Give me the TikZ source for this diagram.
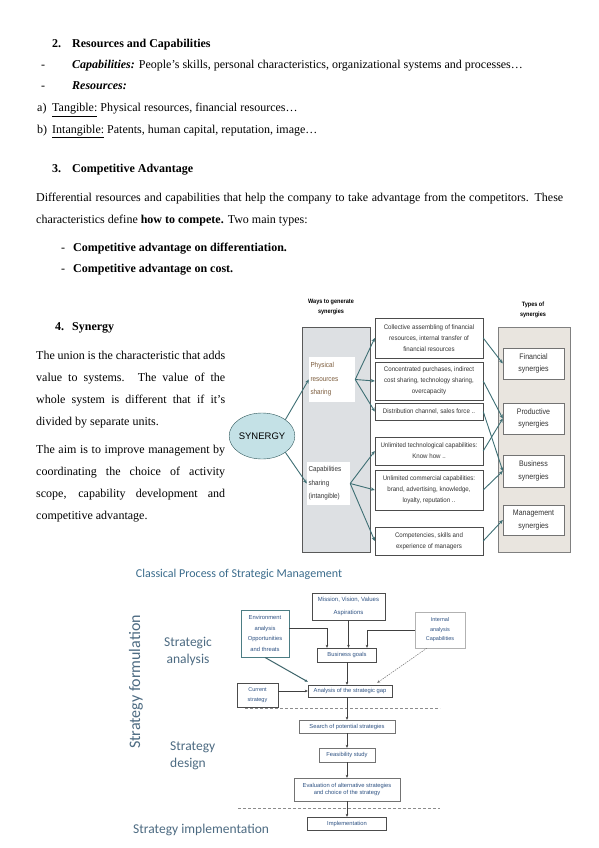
\documentclass[tikz,border=0pt]{standalone}
\usepackage{fontspec}
\setmainfont{Liberation Serif}
\newfontfamily\diagfont{Liberation Sans}
\newfontfamily\diagcond[FakeStretch=0.88]{Liberation Sans}
\newfontfamily\diagnarrow[FakeStretch=0.93]{Liberation Sans}
\newfontfamily\procfont{Carlito}
\usetikzlibrary{arrows.meta,shapes.geometric}

\definecolor{synteal}{HTML}{3E6F74}
\definecolor{synfill}{HTML}{C4E1E6}
\definecolor{waygrey}{HTML}{DDE0E3}
\definecolor{typebeige}{HTML}{E9E5DF}
\definecolor{physbrown}{HTML}{7B5B3B}
\definecolor{procblue}{HTML}{2E5283}
\definecolor{labelblue}{HTML}{4D6B82}
\definecolor{titleblue}{HTML}{3B6C8C}
\definecolor{envteal}{HTML}{4C7D84}

\tikzset{
  body/.style={font=\fontsize{12}{14}\selectfont, inner sep=0pt, anchor=base west},
  parablock/.style={font=\fontsize{12}{22}\selectfont, inner sep=0pt, anchor=north west, align=left},
  synarrow/.style={draw=synteal, line width=0.9pt, -{Stealth[length=4pt,width=3.5pt]}},
  waybox/.style={fill=white, inner sep=1.5pt, align=left, font=\diagcond\fontsize{7.2}{13.5}\selectfont},
  midbox/.style={draw=black!70, fill=white, inner sep=1pt, align=center, minimum width=108pt,
    font=\diagnarrow\fontsize{6.6}{11}\selectfont, text=black!80},
  typebox/.style={draw=black!55, fill=white, inner sep=1pt, align=center, minimum width=61pt,
    font=\diagcond\fontsize{8}{12.5}\selectfont, text=black!80},
  procbox/.style={draw=black!70, fill=white, inner sep=1pt, align=center,
    font=\diagfont\fontsize{5.8}{7}\selectfont, text=procblue},
  procarrow/.style={draw=black!75, line width=0.5pt, -{Stealth[length=3pt,width=2.6pt]}},
  stagelabel/.style={font=\procfont\fontsize{13.5}{17}\selectfont, text=labelblue, inner sep=0pt},
  phasebar/.style={draw=black!45, line width=0.6pt, dash pattern=on 3pt off 2pt}
}

\begin{document}
\begin{tikzpicture}[x=1pt,y=-1pt]
\fill[white] (0,0) rectangle (599,848);
\useasboundingbox (0,0) rectangle (599,848);

% Resources and capabilities
\node[body] (h2num) at (52,48) {\textbf{2.}};
\node[body] (h2) at (72,48) {\textbf{Resources and Capabilities}};
\node[body] (d1) at (41,69) {-};
\node[body] (capline) at (72,69) {\textbf{\textit{Capabilities:}} People's skills, personal characteristics, organizational systems and processes…};
\node[body] (d2) at (41,90) {-};
\node[body] (resline) at (72,90) {\textbf{\textit{Resources:}}};
\node[body] (la) at (37,112) {a)};
\node[body] (tangline) at (52,112) {\underline{Tangible:} Physical resources, financial resources…};
\node[body] (lb) at (37,133) {b)};
\node[body] (intline) at (52,133) {\underline{Intangible:} Patents, human capital, reputation, image…};

% Competitive advantage
\node[body] (h3num) at (52,172) {\textbf{3.}};
\node[body] (h3) at (72,172) {\textbf{Competitive Advantage}};
\node[parablock] (diffpar) at (36,192.5) {\makebox[527pt][s]{Differential resources and capabilities that help the company to take advantage from the competitors. These}\\
  characteristics define \textbf{how to compete.} Two main types:};
\node[body] (d3) at (61,251) {-};
\node[body] (cadiff) at (73,251) {\textbf{Competitive advantage on differentiation.}};
\node[body] (d4) at (61,272) {-};
\node[body] (cacost) at (73,272) {\textbf{Competitive advantage on cost.}};

% Synergy text
\node[body] (h4num) at (55,330) {\textbf{4.}};
\node[body] (h4) at (72,330) {\textbf{Synergy}};
\node[parablock] (synpar) at (36,350.5) {\makebox[189pt][s]{The union is the characteristic that adds}\\
  \makebox[189pt][s]{value to systems. The value of the}\\
  \makebox[189pt][s]{whole system is different that if it's}\\
  divided by separate units.};
\node[parablock] (aimpar) at (36,444.5) {\makebox[189pt][s]{The aim is to improve management by}\\
  \makebox[189pt][s]{coordinating the choice of activity}\\
  \makebox[189pt][s]{scope, capability development and}\\
  competitive advantage.};

% Synergy diagram: columns
\fill[waygrey, draw=black!65, line width=0.6pt] (302,327) rectangle (370,552);
\fill[typebeige, draw=black!50, line width=0.6pt] (498,327) rectangle (570,552);
\node[font=\diagcond\bfseries\fontsize{6.3}{10}\selectfont, align=center, inner sep=0pt] (waytitle) at (331,307) {Ways to generate\\synergies};
\node[font=\diagcond\bfseries\fontsize{6.3}{10}\selectfont, align=center, inner sep=0pt] (typetitle) at (533,310) {Types of\\synergies};

\node[ellipse, draw=synteal!80!black, fill=synfill, minimum width=62pt, minimum height=46pt, inner sep=0pt,
  font=\diagfont\fontsize{9.5}{10}\selectfont] (syn) at (262,436) {SYNERGY};

\node[waybox, text=physbrown, text width=43pt, minimum height=45pt] (phys) at (332,379.5) {Physical\\resources\\sharing};
\node[waybox, text=black!80, text width=40pt, minimum height=43pt] (capsh) at (328.5,483.5) {Capabilities\\sharing\\(intangible)};

% Ways of sharing
\node[midbox, minimum height=40pt] (m1) at (429,338) {Collective assembling of financial\\resources, internal transfer of\\financial resources};
\node[midbox, minimum height=38pt] (m2) at (429,381) {Concentrated purchases, indirect\\cost sharing, technology sharing,\\overcapacity};
\node[midbox, minimum height=17pt] (m3) at (429,411.5) {Distribution channel, sales force ..};
\node[midbox, minimum height=28pt] (m4) at (429,451) {Unlimited technological capabilities:\\Know how ..};
\node[midbox, minimum height=40pt] (m5) at (429,490) {Unlimited commercial capabilities:\\brand, advertising, knowledge,\\loyalty, reputation ..};
\node[midbox, minimum height=28pt] (m6) at (429,541) {Competencies, skills and\\experience of managers};

% Types of synergies
\node[typebox, minimum height=31pt] (r1) at (533.5,363.5) {Financial\\synergies};
\node[typebox, minimum height=31pt] (r2) at (533.5,418.5) {Productive\\synergies};
\node[typebox, minimum height=32pt] (r3) at (533.5,471) {Business\\synergies};
\node[typebox, minimum height=30pt] (r4) at (533.5,520) {Management\\synergies};

\draw[synarrow] (syn.35) -- (phys.west);
\draw[synarrow] (syn.-35) -- (capsh.west);
\foreach \m in {m1,m2,m3} {
    \draw[synarrow] (phys.east) -- (\m.west);
}
\foreach \m in {m4,m5,m6} {
    \draw[synarrow] (capsh.east) -- (\m.west);
}
\foreach \src/\dst in {m1/r1, m2/r2, m3/r3, m4/r2, m5/r3, m6/r4} {
    \draw[synarrow] (\src.east) -- (\dst.west);
}

% Classical process
\node[font=\procfont\fontsize{12}{14}\selectfont, text=titleblue, inner sep=0pt] (proctitle) at (239,574) {Classical Process of Strategic Management};
\node[stagelabel, rotate=90, font=\procfont\fontsize{16}{17}\selectfont] (formlabel) at (136,682) {Strategy formulation};
\node[stagelabel, align=center] (analabel) at (188,651) {Strategic\\analysis};
\node[stagelabel, align=left, anchor=west] (desilabel) at (170,756) {Strategy\\design};
\node[stagelabel, anchor=base west] (implabel) at (133,833) {Strategy implementation};

\node[procbox, draw=envteal, line width=0.9pt, minimum width=48pt, minimum height=47pt,
  font=\diagfont\fontsize{5.8}{10.5}\selectfont] (env) at (265,633.5) {Environment\\analysis\\Opportunities\\and threats};
\node[procbox, minimum width=73pt, minimum height=27pt, font=\diagfont\fontsize{6}{12.5}\selectfont] (mission) at (348.5,606.5) {Mission, Vision, Values\\Aspirations};
\node[procbox, draw=black!30, minimum width=50pt, minimum height=36pt, font=\diagfont\fontsize{5.5}{9.5}\selectfont] (internal) at (440,630) {Internal\\analysis\\Capabilities};
\node[procbox, minimum width=59pt, minimum height=14pt] (goals) at (347,655) {Business goals};
\node[procbox, minimum width=41pt, minimum height=24pt, font=\diagfont\fontsize{5.5}{9.5}\selectfont] (current) at (257.5,695) {Current\\strategy};
\node[procbox, minimum width=84pt, minimum height=12pt] (gap) at (350,691) {Analysis of the strategic gap};
\node[procbox, draw=black!55, minimum width=96pt, minimum height=13pt] (search) at (347,726.5) {Search of potential strategies};
\node[procbox, draw=black!55, minimum width=56pt, minimum height=14pt] (feas) at (347,755) {Feasibility study};
\node[procbox, draw=black!55, minimum width=106pt, minimum height=23pt] (evalu) at (347,789.5) {Evaluation of alternative strategies\\and choice of the strategy};
\node[procbox, minimum width=79pt, minimum height=13pt] (impl) at (347,823.5) {Implementation};

% phase separators
\draw[phasebar] (245,708) -- (440,708);
\draw[phasebar] (238,808) -- (440,808);

\draw[procarrow] ([yshift=5pt]env.east) -| ([xshift=-20pt]goals.north);
\draw[procarrow] (mission) -- (mission |- goals.north);
\draw[procarrow] (internal.west) -| ([xshift=20pt]goals.north);
\draw[procarrow, draw=envteal!80!black, line width=1pt] (env.south) -- ([yshift=3pt]gap.north west);
\draw[procarrow, draw=black!55, dash pattern=on 1.5pt off 1pt] ([xshift=12pt]internal.south west) -- ([xshift=-15pt,yshift=2pt]gap.north east);
\draw[procarrow] (goals) -- (goals |- gap.north);
\draw[procarrow] (current.east |- gap) -- (gap.west);
\draw[procarrow] (gap.south -| search) -- (search.north);
\draw[procarrow] (search) -- (feas);
\draw[procarrow] (feas) -- (evalu);
\draw[procarrow] (evalu) -- (impl);
\end{tikzpicture}
\end{document}
